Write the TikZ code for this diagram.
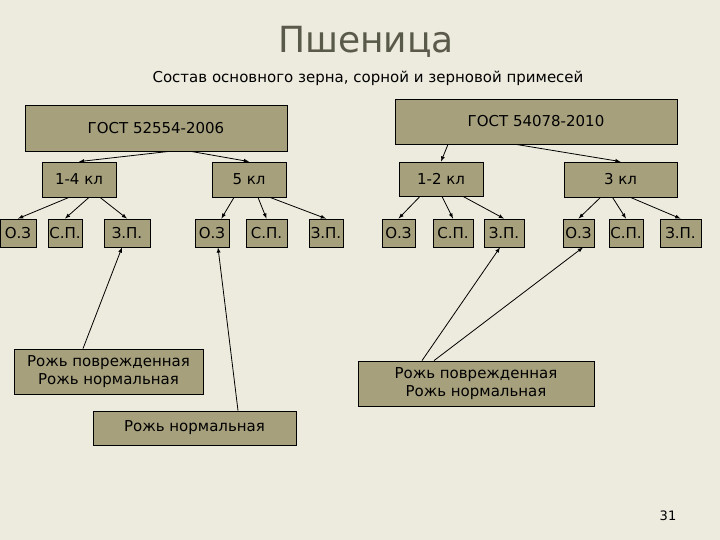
\documentclass[tikz,border=0pt]{standalone}
\usepackage{fontspec}
\setmainfont{DejaVu Sans}
\definecolor{bg}{HTML}{EDEBDD}
\definecolor{boxf}{HTML}{A6A07C}
\definecolor{ttl}{HTML}{5A5A4A}
\newcommand{\bx}[6]{\node[bxs, minimum width={(#4-#2)*1pt}, minimum height={(#5-#3)*1pt}] (#1) at ({(#2+#4)/2},{-(#3+#5)/2}) {#6};}
\begin{document}
\begin{tikzpicture}[x=1pt,y=1pt,
  bxs/.style={draw=black, line width=0.8pt, fill=boxf, inner sep=0pt, font=\fontsize{15}{18}\selectfont, align=center},
  arr/.style={-latex, line width=0.8pt}]
\fill[bg] (0,0) rectangle (720,-540);
\useasboundingbox (0,0) rectangle (720,-540);
\node[font=\fontsize{36}{40}\selectfont, text=ttl] (title) at (366,-42) {Пшеница};
\node[font=\fontsize{15}{18}\selectfont] (sub) at (368,-78) {Состав основного зерна, сорной и зерновой примесей};
\bx{g1}{25}{105}{287}{151}{ГОСТ 52554-2006}
\bx{g2}{395}{99}{677}{144}{ГОСТ 54078-2010}
\bx{k14}{42}{162}{116}{197}{1-4 кл}
\bx{k5}{212}{162}{286}{197}{5 кл}
\bx{k12}{399}{162}{483}{196}{1-2 кл}
\bx{k3}{564}{162}{677}{197}{3 кл}
\bx{a1}{0}{219}{36}{247}{О.З}
\bx{a2}{48}{219}{82}{247}{С.П.}
\bx{a3}{104}{219}{150}{247}{З.П.}
\bx{b1}{195}{219}{229}{247}{О.З}
\bx{b2}{246}{219}{287}{247}{С.П.}
\bx{b3}{309}{219}{343}{247}{З.П.}
\bx{c1}{382}{219}{415}{247}{О.З}
\bx{c2}{433}{219}{473}{247}{С.П.}
\bx{c3}{484}{219}{524}{247}{З.П.}
\bx{d1}{563}{219}{594}{247}{О.З}
\bx{d2}{609}{219}{643}{247}{С.П.}
\bx{d3}{660}{219}{701}{247}{З.П.}
\bx{r1}{14}{349}{203}{394}{Рожь поврежденная\\Рожь нормальная}
\bx{r2}{93}{411}{296}{445}{Рожь нормальная}
\bx{r3}{358}{361}{594}{406}{Рожь поврежденная\\Рожь нормальная}
\node[font=\fontsize{13}{15}\selectfont] (pg) at (668,-516) {31};
% connectors
\draw[arr] ([xshift=13]g1.south) -- (k14.north);
\draw[arr] ([xshift=35]g1.south) -- (k5.north);
\draw[arr] ([xshift=-88]g2.south) -- (k12.north);
\draw[arr] ([xshift=-20]g2.south) -- (k3.north);
\draw[arr] ([xshift=-10]k14.south) -- (a1.north);
\draw[arr] ([xshift=-14]k14.south) ++(24,0) -- (a2.north);
\draw[arr] ([xshift=21]k14.south) -- (a3.north);
\draw[arr] ([xshift=-15]k5.south) -- ([xshift=-8]b1.north east);
\draw[arr] ([xshift=9]k5.south) -- (b2.north);
\draw[arr] ([xshift=21]k5.south) -- (b3.north);
\draw[arr] ([xshift=-21]k12.south) -- (c1.north);
\draw[arr] ([xshift=-13]k12.south) ++(14,0) -- (c2.north);
\draw[arr] ([xshift=22]k12.south) -- (c3.north);
\draw[arr] ([xshift=-20]k3.south) -- (d1.north);
\draw[arr] ([xshift=-8]k3.south) -- (d2.north);
\draw[arr] ([xshift=10]k3.south) -- (d3.north);
\draw[arr] ([xshift=-25.5]r1.north) -- ([xshift=-5]a3.south);
\draw[arr] ([xshift=43.5]r2.north) -- ([xshift=6]b1.south);
\draw[arr] ([xshift=-54]r3.north) -- ([xshift=-4]c3.south);
\draw[arr] ([xshift=-42]r3.north) -- ([xshift=4.5]d1.south);
\end{tikzpicture}
\end{document}
